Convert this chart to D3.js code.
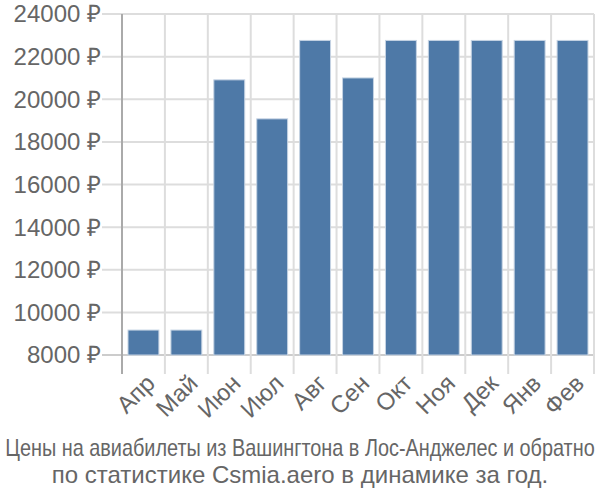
<!DOCTYPE html>
<html><head><meta charset="utf-8">
<script src="https://cdn.jsdelivr.net/npm/d3@7"></script>
<style>body{margin:0;background:#fff}svg{display:block}</style>
</head><body>
<svg id="c" width="600" height="500"></svg>
<script>
const months = ["Апр","Май","Июн","Июл","Авг","Сен","Окт","Ноя","Дек","Янв","Фев"];
const prices = [9170, 9170, 20910, 19080, 22760, 21000, 22760, 22760, 22760, 22760, 22760];
const yTicks = [8000,10000,12000,14000,16000,18000,20000,22000,24000];
const titleLines = ["Цены на авиабилеты из Вашингтона в Лос-Анджелес и обратно","по статистике Csmia.aero в динамике за год."];

const svg = d3.select("#c");
const L=122,R=594,T=14,B=355;
const x = d3.scaleBand().domain(months).range([L,R]).padding(0);
const y = d3.scaleLinear().domain([8000,24000]).range([B,T]);
const font = "'Liberation Sans', Arial, sans-serif";

svg.append("g").selectAll("line").data(yTicks).join("line")
  .attr("x1",L-20).attr("x2",R).attr("y1",d=>y(d)).attr("y2",d=>y(d))
  .attr("stroke",d=>d===8000?"#ccc":"#ddd").attr("stroke-width",2);
const bounds = months.map(m=>x(m)).concat([R]);
svg.append("g").selectAll("line").data(bounds).join("line")
  .attr("x1",d=>d).attr("x2",d=>d).attr("y1",T).attr("y2",B+19)
  .attr("stroke",(d,i)=>i===0?"#aaa":"#ddd").attr("stroke-width",2);

const bw = x.bandwidth();
svg.append("g").selectAll("rect").data(prices).join("rect")
  .attr("x",(d,i)=>x(months[i])+bw*0.14)
  .attr("width",bw*0.72)
  .attr("y",d=>y(d)).attr("height",d=>B-y(d))
  .attr("fill","#4e79a7").attr("stroke","#c5d3e3").attr("stroke-width",1);

svg.append("g").selectAll("text").data(yTicks).join("text")
  .attr("x",L-21).attr("y",d=>y(d)).attr("dy","0.35em")
  .attr("text-anchor","end").attr("fill","#666")
  .style("font-family",font).style("font-size","24px")
  .text(d=>d+" ₽");

svg.append("g").selectAll("text").data(months).join("text")
  .attr("transform",d=>`translate(${x(d)+bw/2+1},${B+18}) rotate(-45)`)
  .attr("text-anchor","end").attr("dy","0.7em").attr("fill","#666")
  .style("font-family",font).style("font-size","24px")
  .text(d=>d);

const t1 = svg.append("text").attr("text-anchor","middle")
  .attr("fill","#666").style("font-family","'Liberation Sans Narrow', 'Liberation Sans', sans-serif").style("font-size","23px")
  .text(titleLines[0]);
const w1 = t1.node().getComputedTextLength();
const sx = Math.min(1, 590 / w1) * (w1 < 560 ? 590 / w1 : 1);
t1.attr("transform",`translate(300,456) scale(${sx},1)`);
svg.append("text").attr("x",300).attr("y",483).attr("text-anchor","middle")
  .attr("fill","#666").style("font-family",font).style("font-size","24px")
  .text(titleLines[1]);
</script>
</body></html>
